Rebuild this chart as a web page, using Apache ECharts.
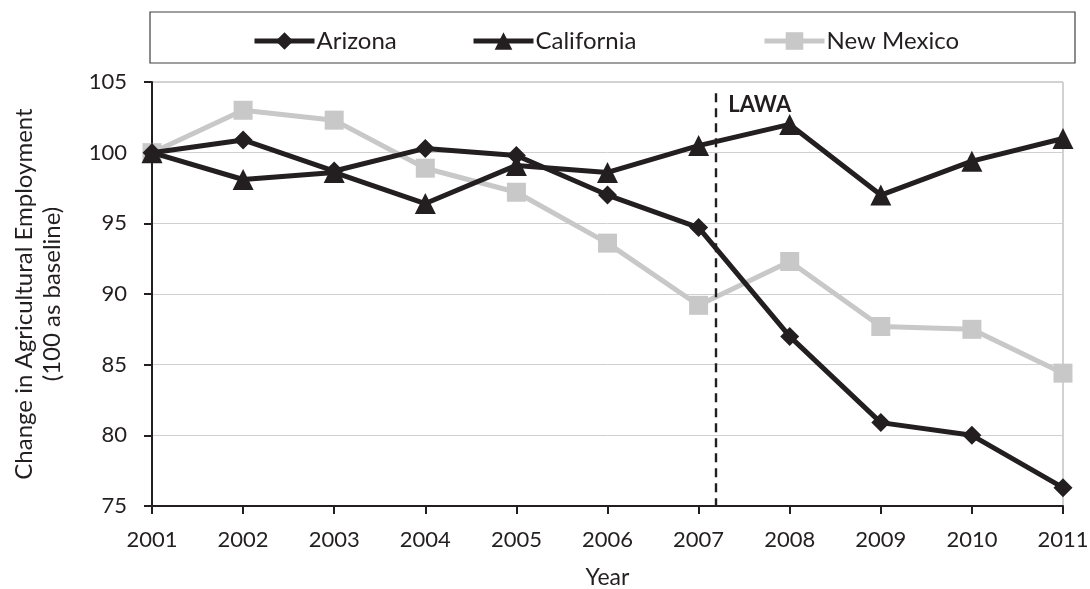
<!DOCTYPE html>
<html>
<head>
<meta charset="utf-8">
<script src="https://cdn.jsdelivr.net/npm/echarts@6/dist/echarts.min.js"></script>
<style>
html,body{margin:0;padding:0;background:#fff;}
#chart{width:1090px;height:589px;}
</style>
</head>
<body>
<div id="chart"></div>
<script>
const years = [2001, 2002, 2003, 2004, 2005, 2006, 2007, 2008, 2009, 2010, 2011];
const arizona = [100, 100.9, 98.7, 100.3, 99.8, 97.0, 94.7, 87.0, 80.9, 80.0, 76.3];
const california = [100, 98.1, 98.6, 96.4, 99.1, 98.6, 100.5, 102.0, 97.0, 99.4, 101.0];
const newMexico = [100, 103.0, 102.3, 98.9, 97.2, 93.6, 89.2, 92.3, 87.7, 87.5, 84.4];
const seriesNames = ['Arizona', 'California', 'New Mexico'];
const lawaYear = 2007.19;
const lawaLabel = 'LAWA';

const FONT = 'Lato';
const DARK = '#231f20';
const GRAY = '#c8c8c8';

function pairs(vals){ return years.map((y,i)=>[y, vals[i]]); }

const legendLefts = [247, 466, 757];
const legends = seriesNames.map((n, i) => ({
  top: 24, left: legendLefts[i],
  itemWidth: 60, itemHeight: 22,
  lineStyle: {width: 5},
  textStyle: {fontFamily: FONT, fontSize: 24, color: DARK, padding: [0,0,0,-3]},
  data: [n]
}));

const chart = echarts.init(document.getElementById('chart'));
chart.setOption({
  animation: false,
  backgroundColor: '#fff',
  textStyle: {fontFamily: FONT},
  grid: {left: 152, right: 27, top: 82, bottom: 83, show: true, borderColor: '#a6a6a6', borderWidth: 1, outerBoundsMode: 'none', containLabel: false},
  graphic: [{
    type: 'rect', shape: {x: 150, y: 12, width: 925, height: 51},
    style: {fill: 'none', stroke: '#404040', lineWidth: 1.2}, z: 0
  }],
  legend: legends,
  xAxis: {
    type: 'value', min: 2001, max: 2011, interval: 1,
    name: 'Year', nameLocation: 'middle', nameGap: 60,
    nameTextStyle: {fontFamily: FONT, fontSize: 23, color: DARK},
    axisLine: {show: true, lineStyle: {color: DARK, width: 2}},
    axisTick: {show: true, length: 8, lineStyle: {color: DARK, width: 2}},
    axisLabel: {fontFamily: FONT, fontSize: 22, color: DARK, margin: 23, formatter: v => String(v)},
    splitLine: {show: false}
  },
  yAxis: {
    type: 'value', min: 75, max: 105, interval: 5,
    name: 'Change in Agricultural Employment\n(100 as baseline)',
    nameLocation: 'middle', nameGap: 86, nameRotate: 90,
    nameTextStyle: {fontFamily: FONT, fontSize: 24, color: DARK, lineHeight: 28},
    axisLine: {show: true, lineStyle: {color: DARK, width: 2}},
    axisTick: {show: true, length: 8, lineStyle: {color: DARK, width: 2}},
    axisLabel: {fontFamily: FONT, fontSize: 22, color: DARK, margin: 25},
    splitLine: {show: true, lineStyle: {color: '#d0d0d0', width: 1}}
  },
  series: [
    {
      name: seriesNames[0], type: 'line', data: pairs(arizona),
      symbol: 'diamond', symbolSize: 19,
      lineStyle: {color: DARK, width: 5}, itemStyle: {color: DARK}, z: 4,
      markLine: {
        silent: true, symbol: 'none',
        lineStyle: {color: DARK, type: [9, 6], width: 2.4},
        label: {show: false},
        data: [[{coord: [lawaYear, 104.2]}, {coord: [lawaYear, 75]}]]
      },
      markPoint: {
        silent: true, symbol: 'circle', symbolSize: 0,
        label: {show: true, formatter: lawaLabel, fontFamily: FONT, fontWeight: 'bold', fontSize: 22, color: DARK, position: 'right', offset: [0,0]},
        data: [{coord: [lawaYear + 0.08, 103.35]}]
      }
    },
    {
      name: seriesNames[1], type: 'line', data: pairs(california),
      symbol: 'triangle', symbolSize: 21,
      lineStyle: {color: DARK, width: 5}, itemStyle: {color: DARK}, z: 5
    },
    {
      name: seriesNames[2], type: 'line', data: pairs(newMexico),
      symbol: 'rect', symbolSize: 19,
      lineStyle: {color: GRAY, width: 5}, itemStyle: {color: GRAY}, z: 3
    }
  ]
});
</script>
</body>
</html>
